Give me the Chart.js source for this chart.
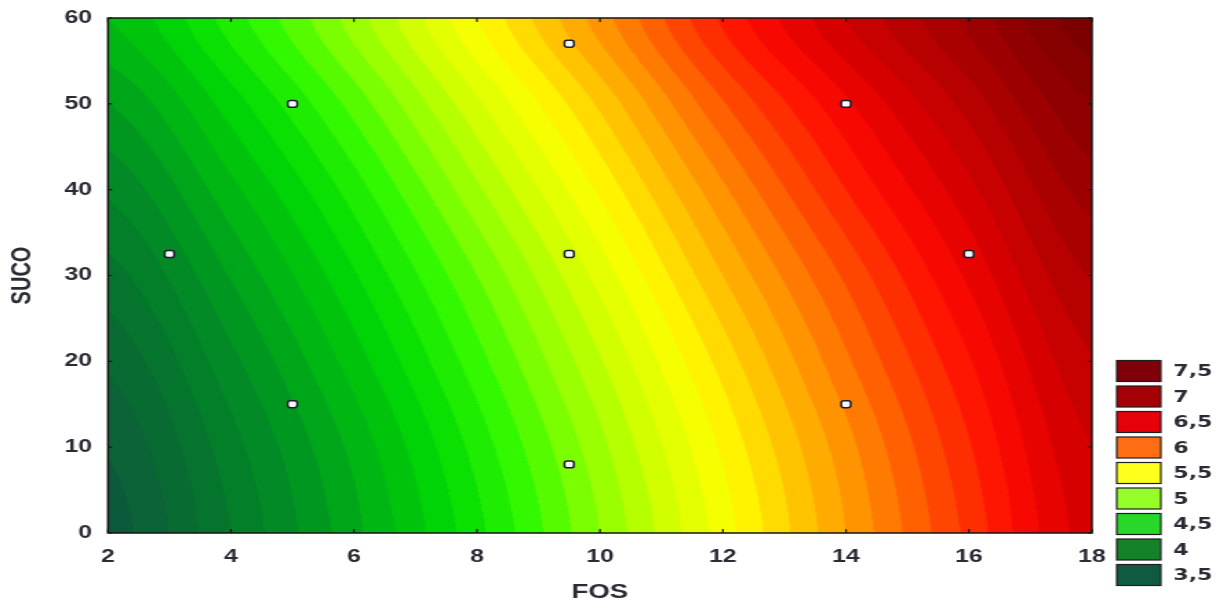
<!DOCTYPE html>
<html>
<head>
<meta charset="utf-8">
<script src="https://cdn.jsdelivr.net/npm/chart.js@4.4.1/dist/chart.umd.min.js"></script>
<style>
  html, body { margin: 0; padding: 0; background: #fff; }
</style>
</head>
<body>
<!-- the reference is stretched sideways, so the canvas is drawn narrow and widened by css -->
<canvas id="chart" width="890" height="608" style="display:block;width:1227px;height:608px"></canvas>
<script>
// ====== DADOS ======
const fosGrid = [2, 4, 6, 8, 10, 12, 14, 16, 18];
const sucoGrid = [0, 10, 20, 30, 40, 50, 60];
const respostaZ = [
    [3.45, 3.80, 4.17, 4.57, 5.00, 5.45, 5.90, 6.33, 6.75],
    [3.51, 3.86, 4.23, 4.64, 5.07, 5.52, 5.96, 6.39, 6.80],
    [3.62, 3.97, 4.35, 4.76, 5.19, 5.64, 6.08, 6.49, 6.89],
    [3.76, 4.11, 4.49, 4.90, 5.34, 5.80, 6.22, 6.62, 7.01],
    [3.92, 4.27, 4.65, 5.08, 5.52, 5.98, 6.40, 6.77, 7.15],
    [4.10, 4.45, 4.84, 5.28, 5.72, 6.19, 6.58, 6.94, 7.30],
    [4.30, 4.65, 5.05, 5.50, 5.95, 6.42, 6.80, 7.13, 7.47]
];
const pontosFos = [3, 5, 5, 9.5, 9.5, 9.5, 14, 14, 16];
const pontosSuco = [32.5, 15, 50, 8, 32.5, 57, 15, 50, 32.5];

const legendLevels = ['7,5', '7', '6,5', '6', '5,5', '5', '4,5', '4', '3,5'];
const legendColors = ['#7d000a', '#a50005', '#e6000a', '#ff6e14', '#ffff1e',
                      '#96ff28', '#28d728', '#148228', '#0f5a41'];

// paleta continua usada no preenchimento (nivel -> cor)
const paletteZ = [3.4, 3.5, 3.75, 4.0, 4.25, 4.5, 4.75, 5.0, 5.25, 5.5, 5.75,
                  6.0, 6.25, 6.5, 6.75, 7.0, 7.25, 7.5, 7.7];
const paletteRGB = [
    [8, 85, 60], [12, 95, 58], [5, 117, 45], [0, 143, 35], [0, 182, 18],
    [0, 218, 3], [50, 248, 0], [140, 255, 0], [210, 255, 0], [255, 255, 0],
    [255, 195, 0], [255, 135, 0], [255, 70, 0], [255, 10, 0], [215, 0, 0],
    [175, 0, 0], [145, 0, 0], [120, 0, 0], [105, 0, 0]
];

const textColor = '#2b2b35';

// ====== FUNCOES AUXILIARES ======
function cr(p0, p1, p2, p3, t) {
    return 0.5 * (2 * p1 + (-p0 + p2) * t + (2 * p0 - 5 * p1 + 4 * p2 - p3) * t * t +
        (-p0 + 3 * p1 - 3 * p2 + p3) * t * t * t);
}

function findCell(arr, v) {
    let i = 0;
    while (i < arr.length - 2 && v > arr[i + 1]) i++;
    const t = Math.min(1, Math.max(0, (v - arr[i]) / (arr[i + 1] - arr[i])));
    return [i, t];
}

function surfaceAt(fv, sv) {
    const [i, tx] = findCell(fosGrid, fv);
    const [j, ty] = findCell(sucoGrid, sv);
    const nx = fosGrid.length - 1, ny = sucoGrid.length - 1;
    const col = k => Math.min(nx, Math.max(0, k));
    const row = k => Math.min(ny, Math.max(0, k));
    const vals = [];
    for (let r = j - 1; r <= j + 2; r++) {
        const line = respostaZ[row(r)];
        vals.push(cr(line[col(i - 1)], line[col(i)], line[col(i + 1)], line[col(i + 2)], tx));
    }
    return cr(vals[0], vals[1], vals[2], vals[3], ty);
}

function colorFor(z) {
    // faixas de 0,1
    const q = Math.floor(z * 10) / 10 + 0.05;
    if (q <= paletteZ[0]) return paletteRGB[0];
    for (let k = 0; k < paletteZ.length - 1; k++) {
        if (q <= paletteZ[k + 1]) {
            const t = (q - paletteZ[k]) / (paletteZ[k + 1] - paletteZ[k]);
            const a = paletteRGB[k], b = paletteRGB[k + 1];
            return [a[0] + (b[0] - a[0]) * t, a[1] + (b[1] - a[1]) * t, a[2] + (b[2] - a[2]) * t];
        }
    }
    return paletteRGB[paletteRGB.length - 1];
}

// ====== PLUGINS ======
const contourFill = {
    id: 'contourFill',
    beforeDatasetsDraw(chart) {
        const { ctx, chartArea: a, scales: { x, y } } = chart;
        const w = Math.ceil(a.right - a.left), h = Math.ceil(a.bottom - a.top);
        const off = document.createElement('canvas');
        off.width = w; off.height = h;
        const octx = off.getContext('2d');
        const img = octx.createImageData(w, h);
        const fvs = [];
        for (let i = 0; i < w; i++) fvs.push(x.getValueForPixel(a.left + i + 0.5));
        for (let j = 0; j < h; j++) {
            const sv = y.getValueForPixel(a.top + j + 0.5);
            for (let i = 0; i < w; i++) {
                const c = colorFor(surfaceAt(fvs[i], sv));
                const p = (j * w + i) * 4;
                img.data[p] = c[0]; img.data[p + 1] = c[1]; img.data[p + 2] = c[2]; img.data[p + 3] = 255;
            }
        }
        octx.putImageData(img, 0, 0);
        ctx.save();
        ctx.beginPath();
        ctx.rect(a.left, a.top, a.right - a.left, a.bottom - a.top);
        ctx.clip();
        ctx.drawImage(off, a.left, a.top);
        ctx.restore();
    },
    afterDatasetsDraw(chart) {
        // moldura e marcas internas
        const { ctx, chartArea: a, scales: { x, y } } = chart;
        ctx.save();
        ctx.strokeStyle = '#141414';
        ctx.lineWidth = 1.5;
        ctx.strokeRect(a.left, a.top, a.right - a.left, a.bottom - a.top);
        ctx.lineWidth = 1.2;
        ctx.beginPath();
        x.ticks.forEach((t, k) => {
            const px = x.getPixelForTick(k);
            ctx.moveTo(px, a.bottom); ctx.lineTo(px, a.bottom - 4);
            ctx.moveTo(px, a.top); ctx.lineTo(px, a.top + 4);
        });
        y.ticks.forEach((t, k) => {
            const py = y.getPixelForTick(k);
            ctx.moveTo(a.left, py); ctx.lineTo(a.left + 3, py);
            ctx.moveTo(a.right, py); ctx.lineTo(a.right - 3, py);
        });
        ctx.stroke();
        ctx.restore();
    }
};

const levelLegend = {
    id: 'levelLegend',
    afterDraw(chart) {
        const { ctx, chartArea: a } = chart;
        const bx = a.right + 18, bw = 32, bh = 21, step = 25.5;
        const firstY = 371;
        ctx.save();
        ctx.font = 'bold 16px "DejaVu Sans"';
        ctx.textBaseline = 'middle';
        ctx.textAlign = 'left';
        legendLevels.forEach((lab, k) => {
            const cy = firstY + k * step;
            ctx.fillStyle = legendColors[k];
            ctx.fillRect(bx, cy - bh / 2, bw, bh);
            ctx.strokeStyle = '#1e1e1e';
            ctx.lineWidth = 1.2;
            ctx.strokeRect(bx, cy - bh / 2, bw, bh);
            ctx.fillStyle = textColor;
            ctx.fillText(lab, bx + bw + 9, cy + 1);
        });
        ctx.restore();
    }
};

// ====== GRAFICO ======
const ctx = document.getElementById('chart');

new Chart(ctx, {
    type: 'scatter',
    data: {
        datasets: [{
            label: 'Pontos',
            data: pontosFos.map((f, i) => ({ x: f, y: pontosSuco[i] })),
            pointStyle: 'rectRounded',
            radius: 4,
            backgroundColor: '#f4f8ff',
            borderColor: '#1c1c2a',
            borderWidth: 1.5
        }]
    },
    options: {
        responsive: false,
        animation: false,
        devicePixelRatio: 1,
        layout: {
            padding: { left: 0, top: 18, right: 98, bottom: 0 }
        },
        plugins: {
            legend: { display: false },
            tooltip: { enabled: false }
        },
        scales: {
            x: {
                type: 'linear',
                min: 2,
                max: 18,
                border: { display: false },
                grid: { display: false, drawTicks: false },
                ticks: {
                    stepSize: 2,
                    padding: 13,
                    color: textColor,
                    font: { family: '"Liberation Sans", Arial', size: 18, weight: 'bold' }
                },
                title: {
                    display: true,
                    text: 'FOS',
                    color: textColor,
                    padding: { top: 0, bottom: 4 },
                    font: { family: '"Liberation Sans", Arial', size: 20, weight: 'bold' }
                },
                afterFit(scale) {
                    scale.height = 75;
                    scale.paddingLeft = 0;
                    scale.paddingRight = 0;
                }
            },
            y: {
                type: 'linear',
                min: 0,
                max: 60,
                border: { display: false },
                grid: { display: false, drawTicks: false },
                ticks: {
                    stepSize: 10,
                    padding: 11.5,
                    color: textColor,
                    font: { family: '"Liberation Sans", Arial', size: 18, weight: 'bold' }
                },
                title: {
                    display: true,
                    text: 'SUCO',
                    color: textColor,
                    padding: { top: 4, bottom: 0 },
                    font: { family: '"Liberation Sans", Arial', size: 20, weight: 'bold' }
                },
                afterFit(scale) {
                    scale.width = 78.3;
                    scale.paddingTop = 0;
                    scale.paddingBottom = 0;
                }
            }
        }
    },
    plugins: [contourFill, levelLegend]
});
</script>
</body>
</html>
